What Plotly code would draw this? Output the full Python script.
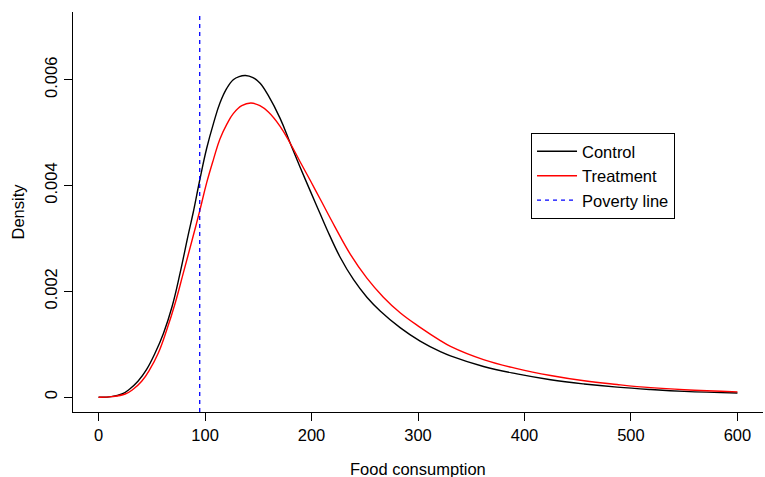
import plotly.graph_objects as go

# ---- data ----
control_x = [0, 12, 22, 29, 37, 45, 53, 61, 69, 76.5, 84, 89, 95, 101.5, 108, 114, 120.5,
             126.5, 132, 138, 145, 151.5, 159.5, 170.5, 180, 189, 199, 208, 214.5, 227,
             239.5, 252, 264.5, 283.5, 302, 321, 330.5, 361.5, 393, 424.5, 456, 487,
             518.5, 550, 600]
control_y = [0.0, 0.00001, 0.00006, 0.00015, 0.00030, 0.00052, 0.00083, 0.00121, 0.00171,
             0.00234, 0.00305, 0.00350, 0.00410, 0.00470, 0.00518, 0.00556, 0.00584,
             0.00600, 0.00606, 0.00608, 0.00604, 0.00594, 0.00570, 0.00527, 0.00480,
             0.00436, 0.00389, 0.00347, 0.00317, 0.00264, 0.00222, 0.00189, 0.00163,
             0.00131, 0.00106, 0.00086, 0.00078, 0.00058, 0.00044, 0.00033, 0.00025,
             0.00019, 0.000145, 0.00011, 0.00008]

treatment_x = [0, 12, 25, 32.5, 40.5, 48, 56, 64, 72, 79.5, 88, 95, 101.5, 108, 114, 120.5,
               126.5, 134.5, 143, 151.5, 159.5, 170.5, 180, 189, 199, 208, 222, 236.5, 252,
               267.5, 283.5, 302, 321, 330.5, 361.5, 393, 424.5, 456, 487, 518.5, 550, 600]
treatment_y = [0.0, 0.00001, 0.00006, 0.00015, 0.00030, 0.00052, 0.00083, 0.00127,
               0.00178, 0.00234, 0.00298, 0.00352, 0.00405, 0.00450, 0.00488, 0.00516,
               0.00536, 0.00551, 0.00556, 0.00551, 0.00539, 0.00512, 0.00480, 0.00446,
               0.00409, 0.00375, 0.00322, 0.00270, 0.00225, 0.00189, 0.00159, 0.00132,
               0.00107, 0.00096, 0.00071, 0.00054, 0.00041, 0.00031, 0.00024, 0.00018,
               0.00014, 0.00010]

poverty_line = 95

x_ticks = [0, 100, 200, 300, 400, 500, 600]
y_ticks = [0, 0.002, 0.004, 0.006]
y_tick_labels = ["0", "0.002", "0.004", "0.006"]

FONT = "Liberation Sans, Arial, Helvetica, sans-serif"
FS = 16.5

fig = go.Figure()
fig.add_trace(go.Scatter(x=control_x, y=control_y, mode="lines", name="Control",
                         line=dict(color="black", width=1.4, shape="spline", smoothing=1.2)))
fig.add_trace(go.Scatter(x=treatment_x, y=treatment_y, mode="lines", name="Treatment",
                         line=dict(color="red", width=1.4, shape="spline", smoothing=1.2)))
fig.add_shape(type="line", x0=poverty_line, x1=poverty_line, xref="x", yref="paper",
              y0=0, y1=1, line=dict(color="#0000FF", width=1.3, dash="4px,4px"),
              showlegend=True, name="Poverty line")

fig.update_layout(
    width=765, height=477,
    margin=dict(l=73, r=2, t=12, b=65),
    paper_bgcolor="white", plot_bgcolor="white",
    font=dict(family=FONT, size=FS, color="black"),
    showlegend=True,
    legend=dict(x=0.6638, y=0.6975, xanchor="left", yanchor="top",
                bordercolor="black", borderwidth=1, bgcolor="white",
                itemwidth=40, font=dict(family=FONT, size=FS, color="black"),
                tracegroupgap=0),
    xaxis=dict(range=[-24, 624], tickvals=x_ticks, showgrid=False, zeroline=False,
               showline=True, linecolor="black", linewidth=1,
               ticks="outside", ticklen=8, tickcolor="black", tickwidth=1,
               tickfont=dict(family=FONT, size=FS, color="black")),
    yaxis=dict(range=[-0.00028, 0.00728], tickvals=y_ticks, ticktext=y_tick_labels,
               showgrid=False, zeroline=False, showline=True, linecolor="black",
               linewidth=1, ticks="outside", ticklen=8, tickcolor="black", tickwidth=1,
               tickangle=-90, tickfont=dict(family=FONT, size=FS, color="black")),
    annotations=[
        dict(text="Food consumption", xref="paper", yref="paper", x=0.5, y=-0.1425,
             xanchor="center", yanchor="middle", showarrow=False,
             font=dict(family=FONT, size=FS, color="black")),
        dict(text="Density", xref="paper", yref="paper", x=-0.0804, y=0.5,
             xanchor="center", yanchor="middle", showarrow=False, textangle=-90,
             font=dict(family=FONT, size=FS, color="black")),
    ],
)

fig.write_html("out.html", config={"displayModeBar": False},
               post_script="document.body.style.margin='0';")
